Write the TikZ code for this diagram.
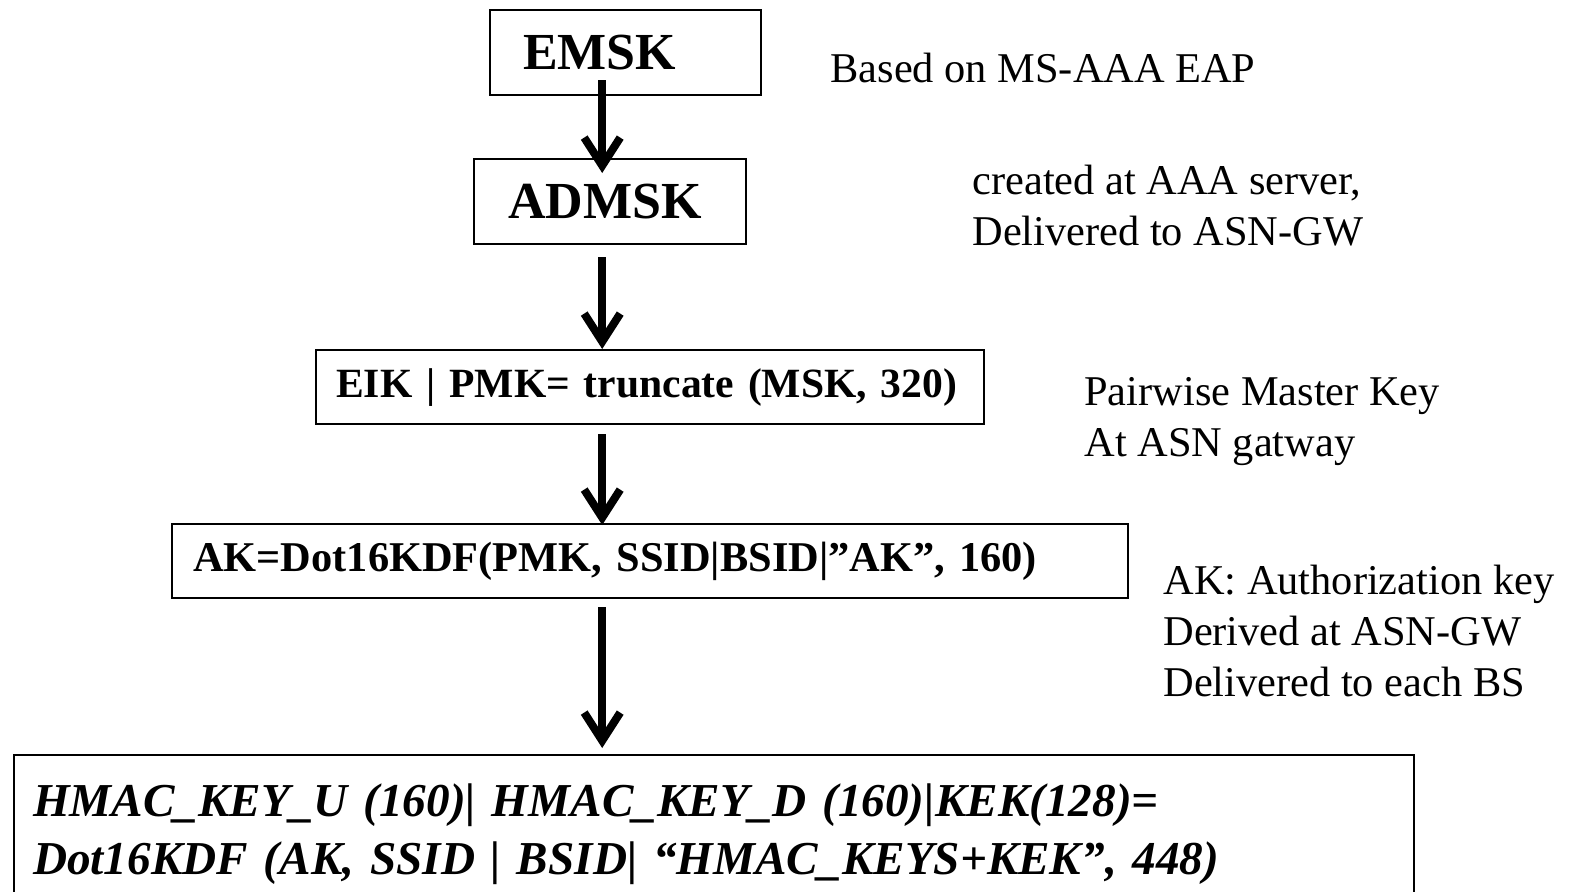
\documentclass[tikz,border=0pt]{standalone}
\usepackage{fontspec}
\setmainfont{Liberation Serif}
\usetikzlibrary{arrows.meta}

\begin{document}
\begin{tikzpicture}[
  x=0.5pt, y=-0.5pt,
  keybox/.style={draw, line width=1.2pt, anchor=north west, align=left, inner ysep=0pt, font=\bfseries\fontsize{21.2}{25}\selectfont},
  note/.style={anchor=west, align=left, inner sep=0pt, font=\fontsize{21.2}{25.5}\selectfont},
  arrow/.style={-{Straight Barb[length=14pt, width=18pt]}, line width=4pt}
]
\useasboundingbox (0,0) rectangle (1576,891);

% key boxes
\node[keybox, font=\bfseries\fontsize{26}{30}\selectfont, text width=102.5pt, inner xsep=16.5pt, minimum height=42.5pt] (emsk) at (489,9) {EMSK};
\node[keybox, font=\bfseries\fontsize{26}{30}\selectfont, text width=102pt, inner xsep=17pt, minimum height=42.5pt] (admsk) at (473,158) {ADMSK};
\node[keybox, font=\bfseries\fontsize{20.8}{25}\selectfont, text width=314pt, inner xsep=10pt, minimum height=37pt] (pmk) at (315,349) {\mbox{EIK | PMK= truncate (MSK, 320)}};
\node[keybox, text width=457pt, inner xsep=10.5pt, minimum height=37pt] (ak) at (171,523) {\mbox{AK=Dot16KDF(PMK, SSID|BSID|”AK”, 160)}};
\node[keybox, font=\bfseries\itshape\fontsize{23.6}{29}\selectfont, text width=681pt, inner xsep=9.5pt, minimum height=79pt] (hmac) at (13,754)
  {HMAC\_KEY\_U (160)| HMAC\_KEY\_D (160)|KEK(128)=\\Dot16KDF (AK, SSID | BSID| “HMAC\_KEYS+KEK”, 448)};

% notes
\node[note] (n1) at (830,68) {Based on MS-AAA EAP};
\node[note] (n2) at (972,205.5) {created at AAA server,\\Delivered to ASN-GW};
\node[note] (n3) at (1084,421.5) {Pairwise Master Key\\At ASN gatway};
\node[note] (n4) at (1163,631) {AK: Authorization key\\Derived at ASN-GW\\Delivered to each BS};

% arrows
\draw[arrow] ([xshift=-11.75pt, yshift=8pt]emsk.south) -- ([xshift=-4pt, yshift=-7.5pt]admsk.north);
\draw[arrow] ([xshift=-4pt, yshift=-6pt]admsk.south) -- ([xshift=-24pt]pmk.north);
\draw[arrow] ([xshift=-24pt, yshift=-4.5pt]pmk.south) -- ([xshift=-24pt, yshift=-1pt]ak.north);
\draw[arrow] ([xshift=-24pt, yshift=-4pt]ak.south) -- ([xshift=-56pt, yshift=3pt]hmac.north);
\end{tikzpicture}
\end{document}
